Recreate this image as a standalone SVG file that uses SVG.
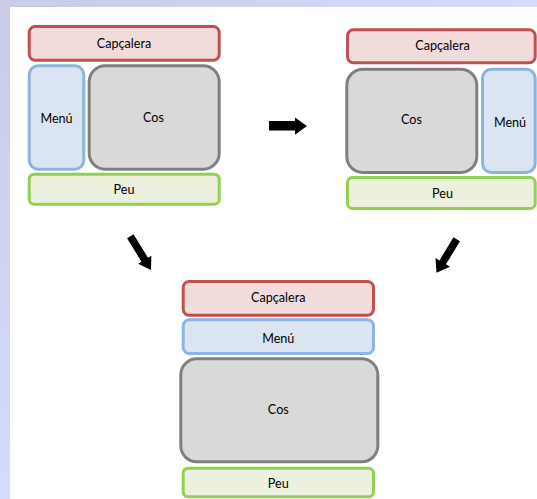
<svg xmlns="http://www.w3.org/2000/svg" width="537" height="499" viewBox="0 0 537 499">
<defs>
<style>
.cap{fill:#f2dcdb;stroke:#c0504d;stroke-width:3}
.men{fill:#dbe5f1;stroke:#8db3e2;stroke-width:3}
.cos{fill:#d9d9d9;stroke:#7f7f7f;stroke-width:3}
.peu{fill:#ebf1de;stroke:#92d050;stroke-width:3}
text{font-family:Lato,"Open Sans","Liberation Sans",sans-serif;font-size:12.6px;fill:#000;text-anchor:middle}
.arr{fill:#000}
</style>
<linearGradient id="gl" x1="0" y1="0" x2="0" y2="1"><stop offset="0" stop-color="#c9cbe7"/><stop offset="1" stop-color="#d4dcfc"/></linearGradient>
<linearGradient id="gt" x1="0" y1="0" x2="1" y2="0"><stop offset="0" stop-color="#c9cbe7"/><stop offset="1" stop-color="#d4dcfa"/></linearGradient>
</defs>
<rect x="0" y="0" width="537" height="499" fill="#fff"/>
<rect x="0" y="0" width="537" height="7" fill="url(#gt)"/>
<rect x="0" y="0" width="10" height="499" fill="url(#gl)"/>

<g id="left-layout">
<g id="l-capcalera"><rect class="cap" x="29.2" y="26.5" width="190" height="33.7" rx="6"/><text x="124" y="47.5">Capçalera</text></g>
<g id="l-menu"><rect class="men" x="29.2" y="65.8" width="54.6" height="103.4" rx="9"/><text x="56.5" y="122.5">Menú</text></g>
<g id="l-cos"><rect class="cos" x="89.2" y="65.8" width="130" height="103.4" rx="16"/><text x="153.5" y="121.5">Cos</text></g>
<g id="l-peu"><rect class="peu" x="29.2" y="174.2" width="190" height="30" rx="5"/><text x="124" y="194">Peu</text></g>
</g>

<g id="right-layout">
<g id="r-capcalera"><rect class="cap" x="347.5" y="29.8" width="187.7" height="33" rx="6"/><text x="442.5" y="50">Capçalera</text></g>
<g id="r-cos"><rect class="cos" x="346.8" y="69.2" width="130" height="103.3" rx="16"/><text x="411.5" y="124">Cos</text></g>
<g id="r-menu"><rect class="men" x="482.5" y="69.2" width="52.7" height="103.3" rx="9"/><text x="510" y="126.5">Menú</text></g>
<g id="r-peu"><rect class="peu" x="347.5" y="177.5" width="187.7" height="31" rx="5"/><text x="442.5" y="198">Peu</text></g>
</g>

<g id="bottom-layout">
<g id="b-capcalera"><rect class="cap" x="183.2" y="281.5" width="190.3" height="33.7" rx="6"/><text x="278.3" y="301.5">Capçalera</text></g>
<g id="b-menu"><rect class="men" x="183.2" y="319.8" width="190.3" height="33.7" rx="6"/><text x="278.3" y="343">Menú</text></g>
<g id="b-cos"><rect class="cos" x="180.8" y="358.8" width="197" height="103" rx="16"/><text x="278.3" y="414">Cos</text></g>
<g id="b-peu"><rect class="peu" x="183.2" y="468.2" width="190.3" height="28.6" rx="5"/><text x="278.3" y="488">Peu</text></g>
</g>

<g id="connectors">
<polygon class="arr" points="269,121 295,121 295,117.5 307,126 295,134.8 295,130.5 269,130.5"/>
<polygon class="arr" transform="translate(130.3,236.3) rotate(58.4)" points="0,-3.8 27.5,-3.8 27.5,-7.8 39.5,0 27.5,7.8 27.5,3.8 0,3.8"/>
<polygon class="arr" transform="translate(456.7,239.3) rotate(121.2)" points="0,-3.8 27,-3.8 27,-8.5 39,0 27,8.5 27,3.8 0,3.8"/>
</g>
</svg>
